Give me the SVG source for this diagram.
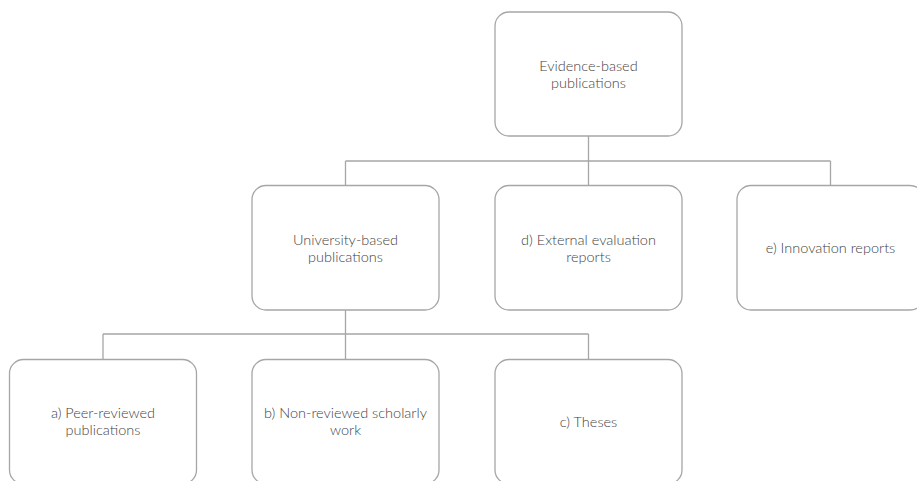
<svg xmlns="http://www.w3.org/2000/svg" width="917" height="481" viewBox="0 0 917 481">
<style>
.box{fill:#ffffff;stroke:#a6a6a6;stroke-width:1.3}
.conn{fill:none;stroke:#a6a6a6;stroke-width:1.3}
text{font-family:"Lato","Open Sans","Liberation Sans",sans-serif;font-weight:300;font-size:14.5px;fill:#3f3f3f;text-anchor:middle}
</style>
<rect width="917" height="481" fill="#ffffff"/>
<g id="connectors">
<path class="conn" d="M588.5,136V185M345.5,161H830.5M345.5,161V185M830.5,161V185"/>
<path class="conn" d="M345.5,310V359M103,334H588.5M103,334V359M588.5,334V359"/>
</g>
<g id="n-evidence">
<rect class="box" x="495" y="12" width="187" height="124" rx="14"/>
<text x="588.5" y="71">Evidence-based</text>
<text x="588.5" y="88">publications</text>
</g>
<g id="n-university">
<rect class="box" x="252" y="185.5" width="187" height="124.5" rx="14"/>
<text x="345.5" y="245">University-based</text>
<text x="345.5" y="262">publications</text>
</g>
<g id="n-external">
<rect class="box" x="495" y="185.5" width="187" height="124.5" rx="14"/>
<text x="588.5" y="245">d) External evaluation</text>
<text x="588.5" y="262">reports</text>
</g>
<g id="n-innovation">
<rect class="box" x="737" y="185.5" width="187" height="124.5" rx="14"/>
<text x="830.5" y="253">e) Innovation reports</text>
</g>
<g id="n-peer">
<rect class="box" x="9.5" y="359.5" width="187" height="124.5" rx="14"/>
<text x="103" y="418">a) Peer-reviewed</text>
<text x="103" y="435">publications</text>
</g>
<g id="n-nonreviewed">
<rect class="box" x="252" y="359.5" width="187" height="124.5" rx="14"/>
<text x="345.5" y="418">b) Non-reviewed scholarly</text>
<text x="345.5" y="435">work</text>
</g>
<g id="n-theses">
<rect class="box" x="495" y="359.5" width="187" height="124.5" rx="14"/>
<text x="588.5" y="427">c) Theses</text>
</g>
</svg>
